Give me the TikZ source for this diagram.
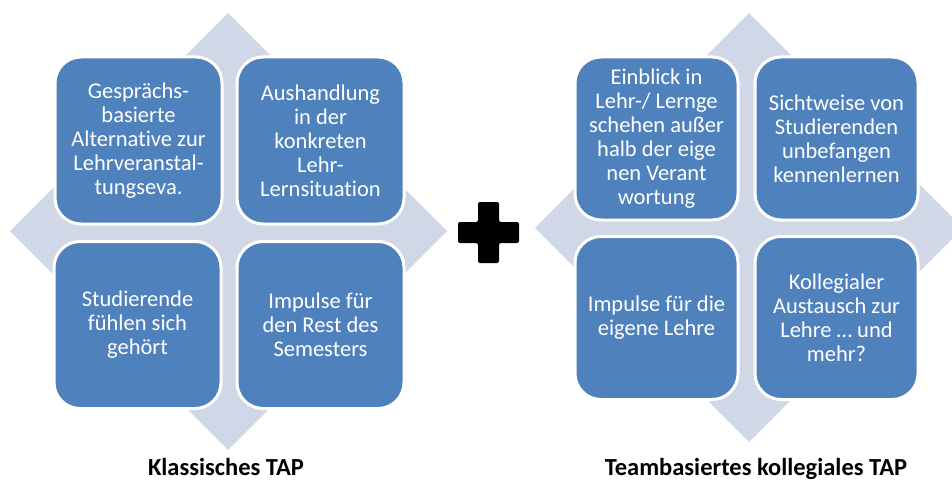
\documentclass[tikz,border=0pt]{standalone}
\usepackage{fontspec}
\setmainfont[Ligatures=NoCommon]{Carlito}
\definecolor{boxblue}{HTML}{4F81BD}
\definecolor{diamondgray}{HTML}{D0D8E8}
\tikzset{
  quadbox/.style={draw=white, line width=3pt, fill=boxblue, rounded corners=26pt,
    text=white, align=center, font=\fontsize{22.5}{24}\selectfont, inner sep=0pt},
  bigbox/.style={quadbox, minimum width=167pt, minimum height=167pt},
  smallbox/.style={quadbox, minimum width=163pt, minimum height=163pt},
  caption/.style={font=\bfseries\fontsize{24.5}{28}\selectfont, anchor=base, inner sep=0pt},
  backdiamond/.style={fill=diamondgray}
}
\begin{document}
\begin{tikzpicture}[x=1pt,y=-1pt]
\useasboundingbox (0,0) rectangle (952,481);
\clip (0,0) rectangle (952,481);
% left diamond
\fill[backdiamond] (228,13) -- (447,231) -- (228,450) -- (10,231) -- cycle;
% right diamond
\fill[backdiamond] (749,13) -- (963,228) -- (749,442) -- (535,228) -- cycle;
% left boxes
\node[bigbox] (l1) at (138.5,140.5) {Gesprächs-\\basierte\\Alternative zur\\Lehrveranstal-\\tungseva.};
\node[bigbox] (l2) at (320.5,140.5) {Aushandlung\\in der\\konkreten\\Lehr-\\Lernsituation};
\node[bigbox] (l3) at (137.5,325) {Studierende\\fühlen sich\\gehört};
\node[bigbox] (l4) at (320.5,325) {Impulse für\\den Rest des\\Semesters};
% right boxes
\node[smallbox] (r1) at (656.5,138.5) {Einblick in\\Lehr-/ Lernge\\schehen außer\\halb der eige\\nen Verant\\wortung};
\node[smallbox] (r2) at (836.5,138.5) {Sichtweise von\\Studierenden\\unbefangen\\kennenlernen};
\node[smallbox] (r3) at (656.5,318) {Impulse für die\\eigene Lehre};
\node[smallbox] (r4) at (836.5,318) {Kollegialer\\Austausch zur\\Lehre \ldots{} und\\mehr?};
% plus sign
\fill[black, rounded corners=2pt] (478,202) -- (499,202) -- (499,222) -- (519,222) -- (519,243) -- (499,243) -- (499,263) -- (478,263) -- (478,243) -- (458,243) -- (458,222) -- (478,222) -- cycle;
% captions
\node[caption] (capl) at (226,475) {Klassisches TAP};
\node[caption] (capr) at (756,475) {Teambasiertes kollegiales TAP};
\end{tikzpicture}
\end{document}
